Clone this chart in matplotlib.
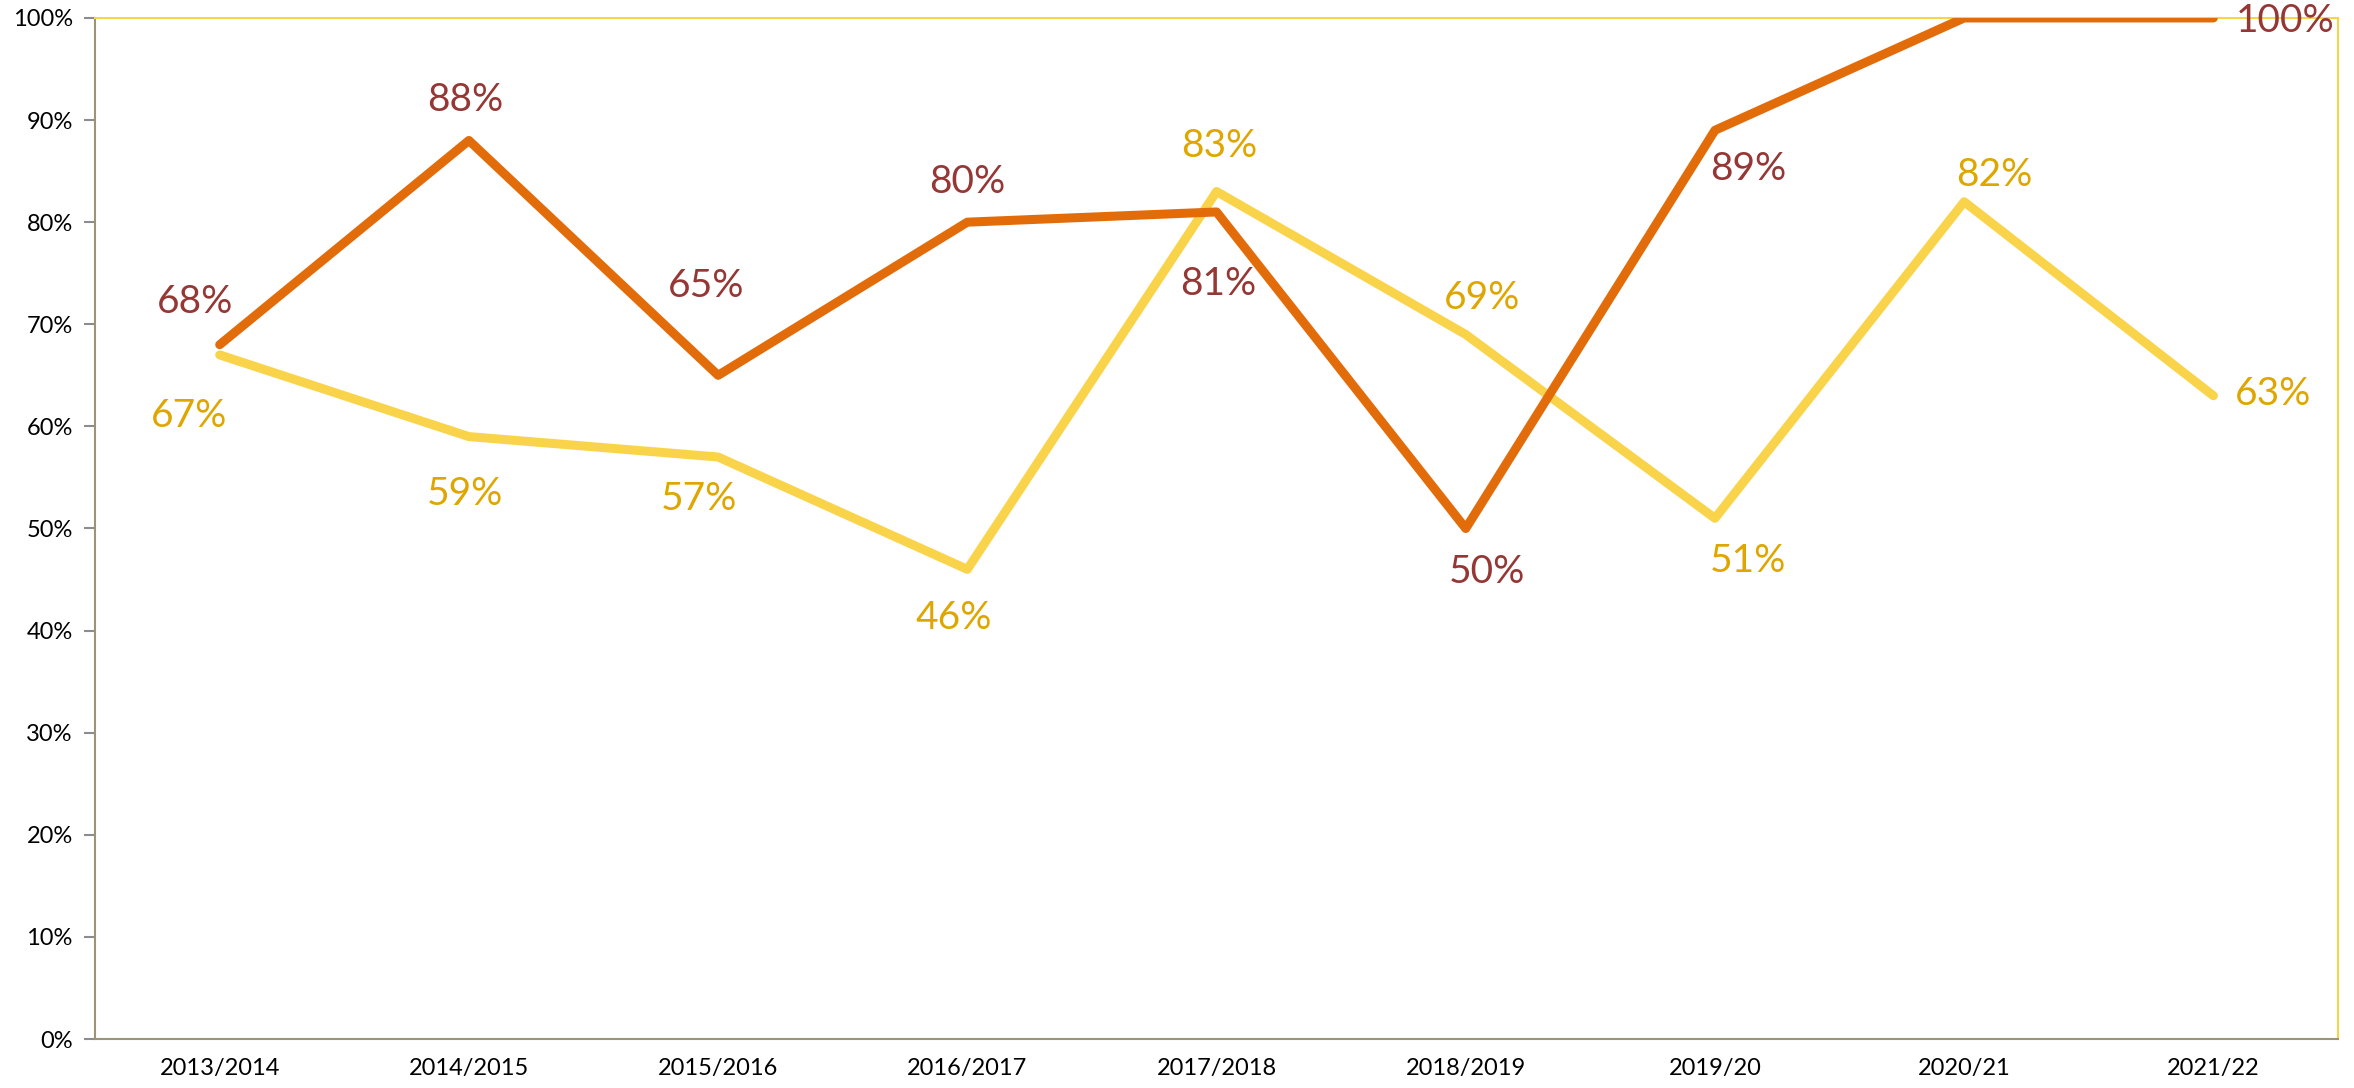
import matplotlib.pyplot as plt
from matplotlib.ticker import PercentFormatter

# Datos
years = ['2013/2014', '2014/2015', '2015/2016', '2016/2017', '2017/2018',
         '2018/2019', '2019/20', '2020/21', '2021/22']
serie_naranja = [68, 88, 65, 80, 81, 50, 89, 100, 100]
serie_amarilla = [67, 59, 57, 46, 83, 69, 51, 82, 63]

# Desplazamiento de etiquetas (puntos); None = sin etiqueta
off_naranja = [(-18, 31), (-3, 29), (-9, 64), (0, 29), (1, -52), (15, -31), (24, -28), None, (52, -2)]
off_amarilla = [(-22, -44), (-3, -41), (-14, -30), (-10, -35), (2, 33), (12, 26), (24, -31), (22, 19), (43, 1)]

NARANJA = '#E36C0A'
AMARILLO = '#F9D44A'
LBL_NARANJA = '#953735'
LBL_AMARILLO = '#DFA600'

plt.rcParams['font.family'] = ['Lato', 'DejaVu Sans']

fig = plt.figure(figsize=(23.54, 10.88), dpi=100)
ax = fig.add_axes([0.0404, 0.045, 0.9528, 0.9385])

x = list(range(len(years)))
ax.plot(x, serie_naranja, color=NARANJA, lw=6.5, solid_joinstyle='round', solid_capstyle='round', zorder=3)
ax.plot(x, serie_amarilla, color=AMARILLO, lw=6.5, solid_joinstyle='round', solid_capstyle='round', zorder=2)

for serie, offs, col in [(serie_naranja, off_naranja, LBL_NARANJA),
                         (serie_amarilla, off_amarilla, LBL_AMARILLO)]:
    for xi, v, off in zip(x, serie, offs):
        if off is None:
            continue
        ax.annotate(f'{v}%', (xi, v), xytext=off, textcoords='offset points',
                    ha='center', va='center', fontsize=28, color=col, annotation_clip=False)

ax.set_xlim(-0.5, len(years) - 0.5)
ax.set_ylim(0, 100)
ax.set_yticks(range(0, 101, 10))
ax.yaxis.set_major_formatter(PercentFormatter(decimals=0))
ax.set_xticks(x)
ax.set_xticklabels(years)
ax.tick_params(axis='x', length=0, labelsize=17, pad=14)
ax.tick_params(axis='y', length=8, width=1.5, color='#8C8C8C', labelsize=17, pad=8)

for s in ['left', 'bottom']:
    ax.spines[s].set_color('#9C9478')
    ax.spines[s].set_linewidth(1.5)
for s in ['top', 'right']:
    ax.spines[s].set_color(AMARILLO)
    ax.spines[s].set_linewidth(1.5)

fig.savefig('out.png', dpi=100)
